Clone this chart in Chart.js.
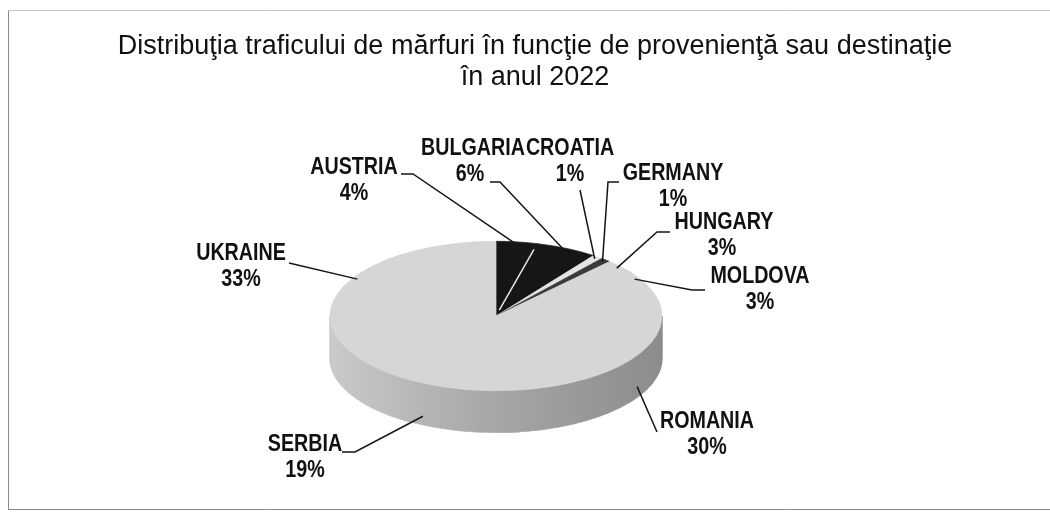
<!DOCTYPE html>
<html>
<head>
<meta charset="utf-8">
<script src="https://cdn.jsdelivr.net/npm/chart.js@4.4.0/dist/chart.umd.min.js"></script>
<style>
  html, body { margin: 0; padding: 0; background: #fff; }
  #wrap { width: 1050px; height: 514px; }
</style>
</head>
<body>
<div id="wrap"><canvas id="traficChart"></canvas></div>
<script>
// data
const countries = ['AUSTRIA', 'BULGARIA', 'CROATIA', 'GERMANY', 'HUNGARY', 'MOLDOVA', 'ROMANIA', 'SERBIA', 'UKRAINE'];
const shares = [4, 6, 1, 1, 3, 3, 30, 19, 33];
const titleLines = ['Distribuţia traficului de mărfuri în funcţie de provenienţă sau destinaţie', 'în anul 2022'];

// styling
const sliceColors = ['#161616', '#161616', '#e4e4e4', '#3a3a3a', '#d6d6d6', '#d6d6d6', '#d6d6d6', '#d6d6d6', '#d6d6d6'];
const darkSlices = [true, true, false, true, false, false, false, false, false];

// where each label text sits (name centre, percent centre) and where its leader starts
const labelSpots = [
    { x: 354, y: 167, px: 354, ex: 401, ey: 174, h: 12 },  // austria
    { x: 473, y: 148, px: 470, ex: 490, ey: 182, h: 10 },  // bulgaria
    { x: 570, y: 148, px: 570, ex: 580, ey: 190, h: 0 },   // croatia
    { x: 673, y: 173, px: 673, ex: 619, ey: 182, h: -11 }, // germany
    { x: 724, y: 222, px: 722, ex: 670, ey: 232, h: -13 }, // hungary
    { x: 760, y: 276, px: 760, ex: 705, ey: 290, h: -13 }, // moldova
    { x: 707, y: 421, px: 707, ex: 657, ey: 432, h: 0 },   // romania
    { x: 305, y: 444, px: 305, ex: 342, ey: 452, h: 13 },  // serbia
    { x: 241, y: 253, px: 241, ex: 289, ey: 263, h: 0 }    // ukraine
];

const TILT = 0.45;   // vertical squash of the pie
const DEPTH = 42;    // thickness of the disc in px
const CX = 496, CY = 316;
const labelFont = 'bold 24px "Liberation Sans", Arial, sans-serif';
const NARROW = 0.82; // labels in the picture use a condensed face

function narrowText(ctx, text, x, y) {
    ctx.save();
    ctx.translate(x, y);
    ctx.scale(NARROW, 1);
    ctx.fillText(text, 0, 0);
    ctx.restore();
}

// fake 3D: squash the pie and draw a side band under it
const pie3d = {
    id: 'pie3d',
    beforeDraw(chart) {
        const ctx = chart.ctx;
        ctx.save();
        ctx.lineWidth = 1;
        ctx.strokeStyle = '#8a8a8a';
        ctx.beginPath();
        ctx.moveTo(8.5, 10); ctx.lineTo(8.5, 510);
        ctx.moveTo(8, 509.5); ctx.lineTo(1050, 509.5);
        ctx.stroke();
        ctx.strokeStyle = '#c4c4c4';
        ctx.beginPath();
        ctx.moveTo(8, 10.5); ctx.lineTo(1050, 10.5);
        ctx.stroke();
        ctx.restore();
    },
    beforeDatasetsDraw(chart) {
        const ctx = chart.ctx;
        const arcs = chart.getDatasetMeta(0).data;
        const ox = arcs[0].x, oy = arcs[0].y, r = arcs[0].outerRadius;
        ctx.save();
        ctx.translate(CX, CY);
        ctx.scale(1, TILT);
        ctx.translate(-ox, -oy);
        const D = DEPTH / TILT;
        const grad = ctx.createLinearGradient(ox - r, 0, ox + r, 0);
        grad.addColorStop(0, '#cacaca');
        grad.addColorStop(0.45, '#a9a9a9');
        grad.addColorStop(1, '#8c8c8c');
        arcs.forEach((arc, i) => {
            const a = Math.max(arc.startAngle, 0);
            const b = Math.min(arc.endAngle, Math.PI);
            if (a >= b) return;
            ctx.beginPath();
            ctx.arc(ox, oy, r, a, b);
            ctx.arc(ox, oy + D, r, b, a, true);
            ctx.closePath();
            const col = darkSlices[i] ? '#050505' : grad;
            ctx.fillStyle = col;
            ctx.strokeStyle = col;
            ctx.lineWidth = 1.5;
            ctx.fill();
            ctx.stroke();
        });
    },
    afterDatasetsDraw(chart) {
        const ctx = chart.ctx;
        const arcs = chart.getDatasetMeta(0).data;
        const ox = arcs[0].x, oy = arcs[0].y, r = arcs[0].outerRadius;
        // thin white seam between neighbouring dark slices
        ctx.strokeStyle = '#e8e8e8';
        ctx.lineWidth = 1.6;
        arcs.forEach((arc, i) => {
            if (darkSlices[i] && darkSlices[i + 1]) {
                ctx.beginPath();
                ctx.moveTo(ox + r * 0.08 * Math.cos(arc.endAngle), oy + r * 0.08 * Math.sin(arc.endAngle));
                ctx.lineTo(ox + r * 0.92 * Math.cos(arc.endAngle), oy + r * 0.92 * Math.sin(arc.endAngle));
                ctx.stroke();
            }
        });
        ctx.restore();

        // leader lines and labels
        ctx.save();
        ctx.strokeStyle = '#151515';
        ctx.lineWidth = 1.5;
        ctx.fillStyle = '#111';
        ctx.font = labelFont;
        ctx.textAlign = 'center';
        ctx.textBaseline = 'middle';
        arcs.forEach((arc, i) => {
            const m = (arc.startAngle + arc.endAngle) / 2;
            const s = Math.sin(m);
            const ax = CX + r * 0.97 * Math.cos(m);
            let ay = CY + r * 0.97 * TILT * s;
            if (s > 0.3) ay += DEPTH * 0.85;
            const spot = labelSpots[i];
            ctx.beginPath();
            ctx.moveTo(spot.ex, spot.ey);
            ctx.lineTo(spot.ex + spot.h, spot.ey);
            ctx.lineTo(ax, ay);
            ctx.stroke();
            narrowText(ctx, countries[i], spot.x, spot.y);
            narrowText(ctx, shares[i] + '%', spot.px, spot.y + 26);
        });
        ctx.restore();
    }
};

const ctx = document.getElementById('traficChart').getContext('2d');
const traficChart = new Chart(ctx, {
    type: 'pie',
    data: {
        labels: countries,
        datasets: [{
            data: shares,
            backgroundColor: sliceColors,
            borderColor: sliceColors,
            borderWidth: 1,
            radius: 166,
            clip: false
        }]
    },
    options: {
        responsive: true,
        maintainAspectRatio: false,
        animation: false,
        events: [],
        layout: {
            padding: { left: 20, right: 0 }
        },
        plugins: {
            legend: { display: false },
            tooltip: { enabled: false },
            title: {
                display: true,
                text: titleLines,
                color: '#111',
                font: { family: '"Liberation Sans", Arial, sans-serif', size: 27, weight: 'normal', lineHeight: 1.15 },
                padding: { top: 31, bottom: 10 }
            }
        }
    },
    plugins: [pie3d]
});
</script>
</body>
</html>
